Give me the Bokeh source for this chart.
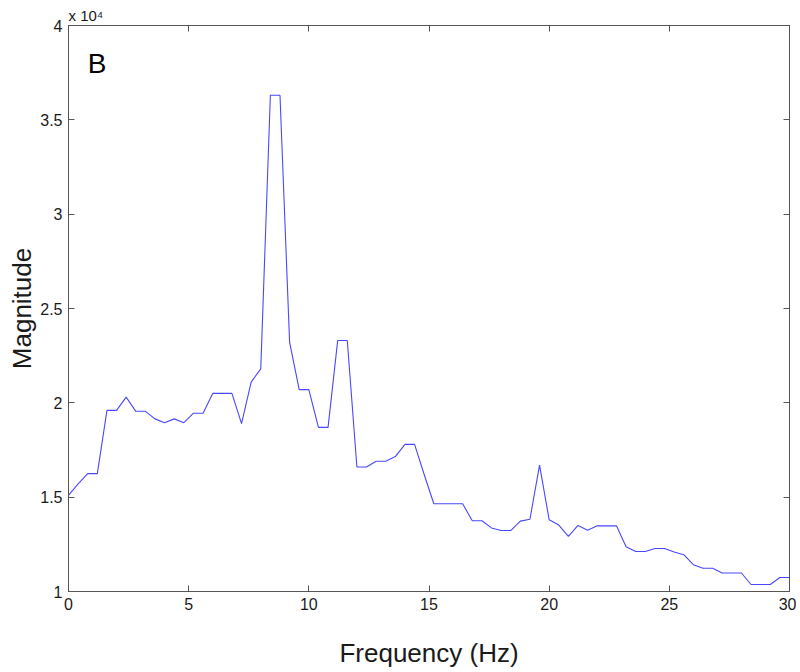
from bokeh.plotting import figure
from bokeh.models import Range1d, LinearAxis, FixedTicker, Label, CustomJSTickFormatter
from bokeh.embed import file_html
from bokeh.resources import INLINE

# Frequency bins (Hz)
freq_hz = [0.0, 0.4, 0.8, 1.2, 1.6, 2.0, 2.4, 2.8, 3.2, 3.6,
           4.0, 4.4, 4.8, 5.2, 5.6, 6.0, 6.4, 6.8, 7.2, 7.6,
           8.0, 8.4, 8.8, 9.2, 9.6, 10.0, 10.4, 10.8, 11.2, 11.6,
           12.0, 12.4, 12.8, 13.2, 13.6, 14.0, 14.4, 14.8, 15.2, 15.6,
           16.0, 16.4, 16.8, 17.2, 17.6, 18.0, 18.4, 18.8, 19.2, 19.6,
           20.0, 20.4, 20.8, 21.2, 21.6, 22.0, 22.4, 22.8, 23.2, 23.6,
           24.0, 24.4, 24.8, 25.2, 25.6, 26.0, 26.4, 26.8, 27.2, 27.6,
           28.0, 28.4, 28.8, 29.2, 29.6, 30.0]

# Magnitude (units of 1e4)
magnitude_1e4 = [1.51, 1.57, 1.625, 1.625, 1.96, 1.96, 2.03, 1.955, 1.955, 1.915,
                 1.895, 1.915, 1.895, 1.945, 1.945, 2.05, 2.05, 2.05, 1.89, 2.11,
                 2.18, 3.63, 3.63, 2.32, 2.07, 2.07, 1.87, 1.87, 2.33, 2.33,
                 1.66, 1.66, 1.69, 1.69, 1.715, 1.78, 1.78, 1.62, 1.465, 1.465,
                 1.465, 1.465, 1.375, 1.375, 1.337, 1.323, 1.323, 1.373, 1.383, 1.67,
                 1.38, 1.352, 1.292, 1.35, 1.325, 1.348, 1.348, 1.348, 1.237, 1.212,
                 1.212, 1.228, 1.228, 1.209, 1.195, 1.142, 1.123, 1.123, 1.098, 1.098,
                 1.098, 1.037, 1.037, 1.037, 1.074, 1.074]

x_ticks = [0, 5, 10, 15, 20, 25, 30]
y_ticks = [1, 1.5, 2, 2.5, 3, 3.5, 4]

FONT = "Liberation Sans"
AX_COLOR = "#555555"
TXT_COLOR = "#1a1a1a"

p = figure(width=796, height=670, output_backend="svg", toolbar_location=None,
           x_range=Range1d(0, 30), y_range=Range1d(1, 4),
           x_axis_label="Frequency (Hz)", y_axis_label="Magnitude",
           title="x 10\u2074",
           min_border_left=68, min_border_right=7, min_border_top=25,
           min_border_bottom=76)
p.background_fill_color = "white"
p.border_fill_color = "white"
p.xgrid.visible = False
p.ygrid.visible = False
p.outline_line_color = AX_COLOR
p.outline_line_width = 1

p.title.align = "left"
p.title.text_font = FONT
p.title.text_font_size = "15px"
p.title.text_font_style = "normal"
p.title.text_color = TXT_COLOR
p.title.standoff = 4
p.title.offset = 0

p.line(freq_hz, magnitude_1e4, line_color="#4848ff", line_width=1.1)

fmt = CustomJSTickFormatter(code="return String(Math.round(tick*10)/10);")
blank = CustomJSTickFormatter(code="return '';")

def style(ax, labels=True):
    ax.axis_line_color = AX_COLOR
    ax.major_tick_line_color = AX_COLOR
    ax.minor_tick_line_color = None
    ax.major_tick_in = 6
    ax.major_tick_out = 0
    ax.major_label_text_font = FONT
    ax.major_label_text_color = TXT_COLOR
    if labels:
        ax.major_label_text_font_size = "16px"
        ax.major_label_standoff = 6
    else:
        ax.major_label_text_font_size = "1px"
        ax.major_label_standoff = 0
    ax.axis_label_text_font = FONT
    ax.axis_label_text_font_size = "26px"
    ax.axis_label_text_font_style = "normal"
    ax.axis_label_text_color = TXT_COLOR

xax = p.xaxis[0]
yax = p.yaxis[0]
xax.ticker = FixedTicker(ticks=x_ticks)
yax.ticker = FixedTicker(ticks=y_ticks)
xax.formatter = fmt
yax.formatter = fmt
style(xax)
style(yax)
xax.axis_label_standoff = 25
yax.axis_label_standoff = 0

top = LinearAxis(ticker=FixedTicker(ticks=x_ticks), formatter=blank)
right = LinearAxis(ticker=FixedTicker(ticks=y_ticks), formatter=blank)
style(top, labels=False)
style(right, labels=False)
p.add_layout(top, "above")
p.add_layout(right, "right")

p.add_layout(Label(x=0.8, y=3.8, text="B",
                   text_font=FONT, text_font_size="28px", text_color="black",
                   text_baseline="middle", text_align="left"))

open("out.html", "w").write(file_html(p, INLINE))
